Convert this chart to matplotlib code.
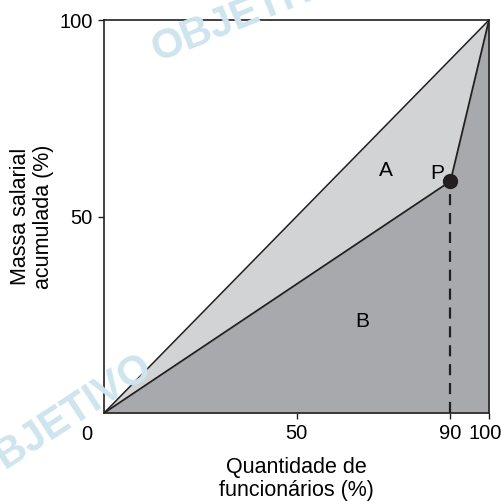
import matplotlib
matplotlib.use("Agg")
import matplotlib.pyplot as plt
import matplotlib.transforms as mtrans

plt.rcParams['font.family'] = ['Liberation Sans', 'DejaVu Sans']

# curve points (quantidade %, massa %)
lorenz_x = [0, 90, 100]
lorenz_y = [0, 59, 100]
equal_x = [0, 100]
equal_y = [0, 100]
p_x, p_y = 90, 59

xticks = [50, 90, 100]
yticks = [50, 100]

light = '#d1d3d4'
dark = '#a7a9ac'
wm = '#cfe5ee'

fig = plt.figure(figsize=(5.02, 5.01), dpi=100)
ax = fig.add_axes([0.2072, 0.1756, 0.7669, 0.7844])

# watermarks behind everything
fig.text(0.50, 0.975, 'OBJETIVO', color=wm, fontsize=30, fontweight='bold',
         rotation=22, ha='center', va='center', zorder=0)
fig.text(0.12, 0.16, 'OBJETIVO', color=wm, fontsize=30, fontweight='bold',
         rotation=33, ha='center', va='center', zorder=0)
ax.patch.set_alpha(0)

# area A (between equality line and curve)
ax.fill(equal_x + lorenz_x[::-1][1:-1], equal_y + lorenz_y[::-1][1:-1],
        color=light, lw=0, zorder=1)
# area B (under the curve)
ax.fill_between(lorenz_x, lorenz_y, 0, color=dark, lw=0, zorder=2)

ax.plot(equal_x, equal_y, color='#231f20', lw=1.1, zorder=3)
ax.plot(lorenz_x, lorenz_y, color='#231f20', lw=1.3, zorder=3)
ax.plot([p_x, p_x], [0, p_y], color='#231f20', lw=1.6, ls=(0, (5, 3.5)), zorder=3)
ax.plot(p_x, p_y, 'o', color='#231f20', ms=10, zorder=4)

ax.text(86.5, 61, 'P', fontsize=15, ha='center', va='center', zorder=5)
ax.text(73.2, 61.6, 'A', fontsize=15, ha='center', va='center', zorder=5)
ax.text(67, 23.2, 'B', fontsize=15, ha='center', va='center', zorder=5)

ax.set_xlim(0, 100)
ax.set_ylim(0, 100)
ax.set_xticks(xticks)
ax.set_yticks(yticks)
ax.tick_params(labelsize=14.5, length=4, width=1, color='#231f20', pad=4)
for s in ax.spines.values():
    s.set_linewidth(1.2)
    s.set_color('#231f20')
ax.text(-4.5, -3, '0', fontsize=14.5, ha='center', va='top', transform=ax.transData)

# nudge the "100" label left so it stays inside the figure
lab100 = ax.get_xticklabels()[-1]
lab100.set_transform(lab100.get_transform() +
                     mtrans.ScaledTranslation(-3 / 72, 0, fig.dpi_scale_trans))

ax.set_xlabel('Quantidade de\nfuncionários (%)', fontsize=15.5, labelpad=10, linespacing=1.15)
ax.set_ylabel('Massa salarial\nacumulada (%)', fontsize=15.5, labelpad=4, linespacing=1.15)

fig.savefig('out.png', dpi=100)
